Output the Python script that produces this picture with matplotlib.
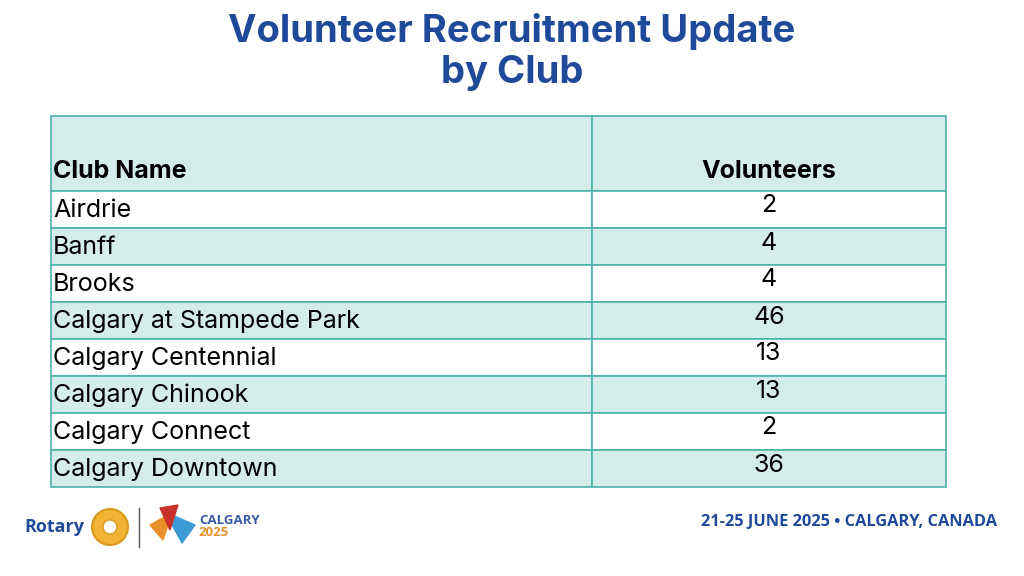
import matplotlib.pyplot as plt
from matplotlib.patches import Rectangle, Circle

title_lines = ["Volunteer Recruitment Update", "by Club"]
col_headers = ["Club Name", "Volunteers"]
clubs = ["Airdrie", "Banff", "Brooks", "Calgary at Stampede Park",
         "Calgary Centennial", "Calgary Chinook", "Calgary Connect",
         "Calgary Downtown"]
volunteers = [2, 4, 4, 46, 13, 13, 2, 36]
footer = "21-25 JUNE 2025 • CALGARY, CANADA"

BLUE = "#1f4a9a"
TEAL_FILL = "#d4ecea"
TEAL_LINE = "#4db3aa"

fig = plt.figure(figsize=(10.24, 5.76), dpi=100)
ax = fig.add_axes([0, 0, 1, 1])
ax.set_xlim(0, 1024)
ax.set_ylim(576, 0)
ax.axis("off")

font = "Inter"
ax.text(512, 32, title_lines[0], ha="center", va="center", fontsize=27.5,
        fontweight="bold", color=BLUE, family=font)
ax.text(512, 73, title_lines[1], ha="center", va="center", fontsize=27.5,
        fontweight="bold", color=BLUE, family=font)

x0, xm, x1 = 51, 592, 946
head_top, head_bot, row_h = 116, 191, 37

# header
for xa, xb in [(x0, xm), (xm, x1)]:
  ax.add_patch(Rectangle((xa, head_top), xb - xa, head_bot - head_top,
                         facecolor=TEAL_FILL, edgecolor=TEAL_LINE, lw=1.2))
ax.text(x0 + 2, 172, col_headers[0], ha="left", va="center", fontsize=18,
        fontweight="bold", family=font, color="black")
ax.text(769, 172, col_headers[1], ha="center", va="center", fontsize=18,
        fontweight="bold", family=font, color="black")

for i, (club, val) in enumerate(zip(clubs, volunteers)):
  top = head_bot + i * row_h
  fc = "white" if i % 2 == 0 else TEAL_FILL
  for xa, xb in [(x0, xm), (xm, x1)]:
    ax.add_patch(Rectangle((xa, top), xb - xa, row_h, facecolor=fc,
                           edgecolor=TEAL_LINE, lw=1.2))
  ax.text(x0 + 2, top + row_h / 2 + 1, club, ha="left", va="center",
          fontsize=18, family=font, color="black")
  ax.text(769, top + 15, str(val), ha="center", va="center",
          fontsize=18, family=font, color="black")

# footer / logos
ax.text(997, 522, footer, ha="right", va="center", fontsize=11.8,
        fontweight="bold", family="Open Sans", color=BLUE)
ax.text(24, 527, "Rotary", ha="left", va="center", fontsize=13,
        fontweight="bold", family="Open Sans", color=BLUE)
ax.add_patch(Circle((110, 527), 18, facecolor="#f2b233", edgecolor="#d99a1c",
                    lw=1.5))
ax.add_patch(Circle((110, 527), 7, facecolor="white", edgecolor="#d99a1c"))
ax.plot([139, 139], [508, 547], color="#555555", lw=1)
ax.text(199, 520, "CALGARY", ha="left", va="center", fontsize=9.5,
        fontweight="bold", family="Open Sans", color="#3a5ba8")
ax.text(199, 533, "2025", ha="left", va="center", fontsize=9.5,
        fontweight="bold", family="Open Sans", color="#e8902a")
ax.fill([150, 172, 163], [525, 513, 540], color="#e8902a")
ax.fill([165, 195, 182], [512, 525, 543], color="#3b9bd6")
ax.fill([160, 178, 170], [508, 505, 530], color="#c8312b")

fig.savefig("out.png", dpi=100)
